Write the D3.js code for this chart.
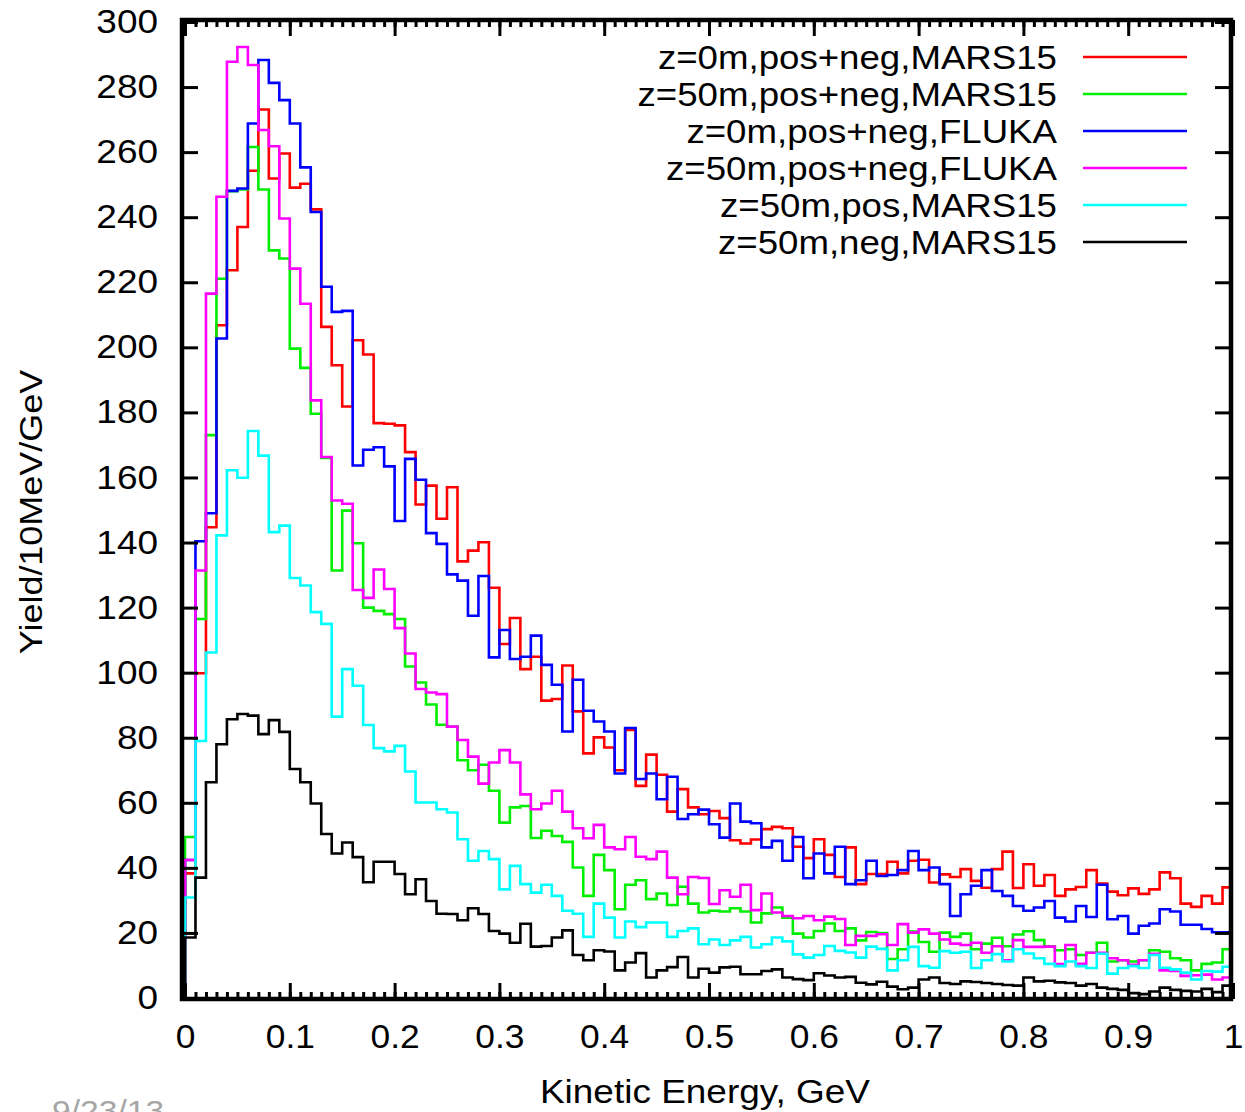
<!DOCTYPE html>
<html lang="en">
<head>
  <meta charset="UTF-8">
  <title>Yield vs kinetic energy</title>
  <script src="https://cdn.jsdelivr.net/npm/d3@7/dist/d3.min.js"></script>
  <style>
    body { margin: 0; background: #fff; }
    svg text { font-family: "Liberation Sans", Arial, sans-serif; fill: #000; }
  </style>
</head>
<body>
  <svg id="chart" width="1245" height="1112"></svg>
  <script>
    // 100 bins of 10 MeV, 0..1 GeV
    const binWidth = 0.01;

    const redVals = [38.3, 99.8, 144.7, 206.8, 223.7, 237, 254.3, 273.1, 251.9, 259.6,
      249.1, 250.3, 242.4, 206.3, 194.5, 181.8, 202.2, 197.8, 176.7, 176.5,
      176, 167.8, 151.7, 157.5, 147.3, 157, 134.2, 137.5, 140.1, 126.1,
      108.8, 116.8, 101.1, 104.9, 91.4, 91.9, 102.2, 88.1, 75.2, 80.1,
      77, 70, 82.4, 65.2, 74.8, 68.6, 57.3, 64.2, 58.6, 56.5,
      57.5, 55.3, 48.5, 47.5, 48.7, 51.9, 52.6, 52.2, 46.5, 43,
      48.8, 44, 37.2, 46.3, 35, 38.1, 38.1, 41.9, 38.3, 42.2,
      42.5, 35.5, 38, 37.2, 39.6, 36, 33.9, 39.6, 45, 33.8,
      41.1, 34.5, 37.8, 31.4, 33.4, 34.1, 39.3, 35.2, 32.7, 31.6,
      33.7, 32, 33.4, 38.6, 36.8, 29, 28, 31.4, 29, 34];

    const greenVals = [49.5, 116.5, 173, 221.1, 248, 248.5, 261.6, 248.5, 229.8, 227.3,
      199.6, 193.7, 179.6, 166, 131.4, 149.8, 139.8, 120, 119, 118,
      116.5, 101.9, 97, 90.2, 84, 83.4, 73.1, 70, 71.7, 63.7,
      53.9, 58.6, 59, 49.2, 51.4, 49.8, 48, 40.1, 31.4, 44,
      39.3, 27.3, 34.8, 36.2, 30.4, 32.1, 28.6, 34.2, 29, 26.3,
      26.8, 26.6, 27.6, 26.6, 23.2, 26, 27.8, 24.7, 19.8, 18.6,
      20.6, 22.9, 20.6, 21.4, 17.7, 20.3, 20, 12, 15, 20.4,
      17.2, 14.2, 20.1, 18.8, 19.8, 15, 16.7, 18.5, 15.9, 19.5,
      20.5, 17.8, 15.9, 14.7, 15, 13.2, 13.9, 17, 11.2, 11.6,
      11.2, 11.6, 14.7, 14.2, 12.2, 11.6, 8.5, 10.5, 10.9, 15];

    const blueVals = [42.4, 140.4, 149, 202.7, 248.1, 248.8, 268.8, 288.3, 281.3, 276,
      268.8, 255.3, 241.6, 218.6, 210.9, 211.2, 163.7, 168.5, 169.3, 163.4,
      146.6, 165.7, 159.3, 142.9, 139.6, 130.2, 128.3, 117.5, 129.7, 104.7,
      113.1, 104.2, 104.9, 111.4, 102.4, 96.3, 81.9, 97.8, 88.3, 85,
      81.9, 69, 83, 67.3, 69, 61.1, 68, 55, 56.5, 57.9,
      53.4, 49.3, 59.8, 54.2, 53.7, 46.3, 48.3, 42.2, 49.5, 36.8,
      44.4, 38.3, 46.5, 35, 36.2, 42.2, 37.5, 37.8, 39.3, 45.2,
      39.3, 40.1, 35, 25.2, 31.9, 34.5, 39.3, 32.9, 31.4, 28.3,
      26.8, 27.8, 29.8, 24.7, 23.5, 28.3, 24.9, 34.8, 24.2, 25.2,
      19.8, 22.2, 22.9, 27.3, 26.6, 22.5, 22.5, 21.2, 20.2, 20.2];

    const magentaVals = [42.4, 131.4, 216.5, 246.3, 287.8, 292.3, 286.8, 266.8, 261.8, 239.6,
      224.2, 213.4, 183.7, 166.3, 152.9, 151.9, 125.4, 123, 131.7, 125.7,
      113.7, 105.9, 95, 93.9, 93.4, 83.4, 79.3, 74.2, 65.9, 72.4,
      76.2, 72.4, 62.6, 58, 59.8, 63.7, 57.3, 52.2, 49.1, 53.2,
      46.3, 45.7, 49.5, 43.4, 42.7, 45, 37, 31.9, 37.2, 36.9,
      28.9, 33.1, 31.1, 34.8, 27, 32.1, 26.3, 25.2, 24.5, 25.2,
      23.9, 25, 24.3, 16.3, 19.1, 19.1, 19.6, 16.3, 22.7, 20.1,
      21.1, 19.8, 18, 16.7, 16.3, 17, 13.9, 15.9, 11.6, 17.8,
      15.7, 15.7, 15.8, 10.4, 16.3, 10.5, 13.9, 13.9, 12.2, 11.6,
      10.2, 11.6, 13.6, 8.5, 8.3, 6.8, 7, 7.2, 5.7, 6.3];

    const cyanVals = [30.9, 79, 106.2, 142.2, 162.2, 159.9, 174.3, 166.7, 143.2, 145.2,
      129.1, 126.8, 118.6, 115, 86.5, 101.1, 96, 83.9, 76.8, 75.8,
      77.5, 69.6, 60.1, 60.1, 58, 57, 48.8, 42.2, 45.2, 42.7,
      33.4, 40.6, 35, 32.4, 34.8, 31.4, 26.8, 25.9, 18.8, 29,
      24.7, 18.6, 23.5, 21.8, 23.2, 23.2, 18.8, 20.6, 21.4, 16.5,
      18, 16.3, 17.7, 18.8, 15.5, 16.5, 18.6, 17.4, 13.4, 12.4,
      13.2, 16, 14.5, 14, 12.4, 15.8, 15.1, 8.5, 11.6, 15.7,
      9.8, 9.3, 14.4, 13.9, 14.2, 9.2, 11.6, 13.5, 11.2, 15,
      13.7, 12.2, 10.5, 9.8, 11.2, 9.8, 9.2, 13.6, 7.5, 9.2,
      9.8, 9.2, 13.2, 9.3, 8.8, 7.8, 5.7, 8.3, 8.1, 9.6];

    const blackVals = [18.6, 37, 66.3, 78, 85.7, 87.3, 86.8, 81.1, 85.4, 81.8,
      70.4, 66.3, 59.8, 50.4, 44.4, 47.8, 43.3, 35.6, 41.9, 41.9,
      38.1, 31.9, 36.5, 29.8, 25.9, 25.8, 23.9, 27.6, 25.8, 20.6,
      19.8, 17, 22.8, 15.8, 16, 18.6, 20.8, 13.2, 11.6, 14.7,
      14.3, 8.5, 10.9, 13.8, 6.3, 8.5, 9.5, 12.6, 6.3, 9,
      7.8, 9.4, 9.6, 7.3, 7.3, 8.3, 8.8, 6.3, 5.8, 5.5,
      7.6, 6.9, 6.3, 6.5, 4.7, 4.2, 5, 3.5, 2.7, 3.2,
      5.7, 6.3, 4.6, 4.3, 5.1, 4.9, 4.6, 4.3, 4, 3.8,
      6.3, 5.1, 5.3, 4.8, 4.6, 3.8, 4.3, 3.2, 2.8, 2.5,
      1.5, 1.2, 2, 3.2, 2.5, 2.2, 2, 2.8, 1.8, 3.8];

    const seriesNames = ['z=0m,pos+neg,MARS15', 'z=50m,pos+neg,MARS15', 'z=0m,pos+neg,FLUKA',
      'z=50m,pos+neg,FLUKA', 'z=50m,pos,MARS15', 'z=50m,neg,MARS15'];
    const seriesColors = ['#ff0000', '#00ee00', '#0000ff', '#ff00ff', '#00ffff', '#000000'];
    const seriesVals = [redVals, greenVals, blueVals, magentaVals, cyanVals, blackVals];

    const xTicks = d3.range(0, 11).map(i => i / 10);
    const yTicks = d3.range(0, 301, 20);

    const svg = d3.select('#chart');
    const frame = {left: 182, right: 1231, top: 20, bottom: 999};

    const x = d3.scaleLinear().domain([0, 1]).range([185, 1233]);
    const y = d3.scaleLinear().domain([0, 300]).range([998, 22]);

    // the original font runs a bit wider than Liberation Sans
    const stretch = (sel, k) => sel.each(function() {
      const w = this.getComputedTextLength();
      d3.select(this).attr('textLength', w * k).attr('lengthAdjust', 'spacingAndGlyphs');
    });

    svg.append('defs').append('clipPath').attr('id', 'plot-clip')
      .append('rect')
        .attr('x', frame.left).attr('y', frame.top)
        .attr('width', frame.right - frame.left)
        .attr('height', frame.bottom - frame.top);

    // histogram steps: up from zero at x=0, flat across each bin
    const stepPath = vals => {
      let d = `M${x(0)},${y(0)}`;
      vals.forEach((v, i) => {
        d += `V${y(v)}H${x((i + 1) * binWidth)}`;
      });
      return d;
    };

    svg.append('g')
      .attr('clip-path', 'url(#plot-clip)')
      .selectAll('path').data(seriesVals)
      .enter().append('path')
        .attr('d', stepPath)
        .attr('fill', 'none')
        .attr('stroke', (d, i) => seriesColors[i])
        .attr('stroke-width', 2.6)
        .attr('stroke-linejoin', 'miter');

    // ticks (inward) on all four sides
    const minorTicks = d3.range(0, 101).map(i => i / 100);
    const styleAxis = g => {
      g.select('.domain').remove();
      g.selectAll('.tick line').attr('stroke', '#000').attr('stroke-width', 3);
      g.selectAll('.tick text').style('font-size', '33px')
        .style('font-family', '"Liberation Sans", Arial, sans-serif');
    };
    const fmtX = d => String(+d.toFixed(1));

    svg.append('g').attr('transform', `translate(0,${frame.bottom})`)
      .call(d3.axisBottom(x).tickValues(minorTicks).tickSize(-7).tickFormat(''))
      .call(styleAxis);
    const xAxisG = svg.append('g').attr('transform', `translate(0,${frame.bottom})`)
      .call(d3.axisBottom(x).tickValues(xTicks).tickSize(-16).tickPadding(25).tickFormat(fmtX))
      .call(styleAxis);
    xAxisG.selectAll('.tick text').style('font-size', '34px').call(stretch, 1.04);
    svg.append('g').attr('transform', `translate(0,${frame.top})`)
      .call(d3.axisTop(x).tickValues(minorTicks).tickSize(-7).tickFormat(''))
      .call(styleAxis);
    svg.append('g').attr('transform', `translate(0,${frame.top})`)
      .call(d3.axisTop(x).tickValues(xTicks).tickSize(-16).tickFormat(''))
      .call(styleAxis);
    const yAxisG = svg.append('g').attr('transform', `translate(${frame.left},0)`)
      .call(d3.axisLeft(y).tickValues(yTicks).tickSize(-16).tickPadding(24))
      .call(styleAxis);
    yAxisG.selectAll('.tick text').call(stretch, 1.12);
    svg.append('g').attr('transform', `translate(${frame.right},0)`)
      .call(d3.axisRight(y).tickValues(yTicks).tickSize(-16).tickFormat(''))
      .call(styleAxis);

    svg.append('rect')
      .attr('x', frame.left).attr('y', frame.top)
      .attr('width', frame.right - frame.left)
      .attr('height', frame.bottom - frame.top)
      .attr('fill', 'none').attr('stroke', '#000').attr('stroke-width', 4.5);

    // axis titles
    svg.append('text')
      .attr('x', 705).attr('y', 1103)
      .attr('text-anchor', 'middle')
      .style('font-size', '33px')
      .text('Kinetic Energy, GeV')
      .call(stretch, 1.12);
    svg.append('text')
      .attr('transform', 'translate(42,512) rotate(-90)')
      .attr('text-anchor', 'middle')
      .style('font-size', '31px')
      .text('Yield/10MeV/GeV')
      .call(stretch, 1.16);

    // legend
    const legend = svg.append('g');
    const rows = legend.selectAll('g').data(seriesNames)
      .enter().append('g')
        .attr('transform', (d, i) => `translate(0,${57 + i * 37})`);
    rows.append('text')
      .attr('x', 1057).attr('dy', '0.35em')
      .attr('text-anchor', 'end')
      .style('font-size', '33px')
      .text(d => d)
      .call(stretch, 1.11);
    rows.append('line')
      .attr('x1', 1083).attr('x2', 1187)
      .attr('stroke', (d, i) => seriesColors[i])
      .attr('stroke-width', 2.4);

    // slide footer date, partly below the bottom edge as in the slide
    svg.append('text')
      .attr('x', 52).attr('y', 1121)
      .style('font-size', '30px')
      .style('fill', '#a6a6a6')
      .text('9/23/13')
      .call(stretch, 1.12);
  </script>
</body>
</html>
